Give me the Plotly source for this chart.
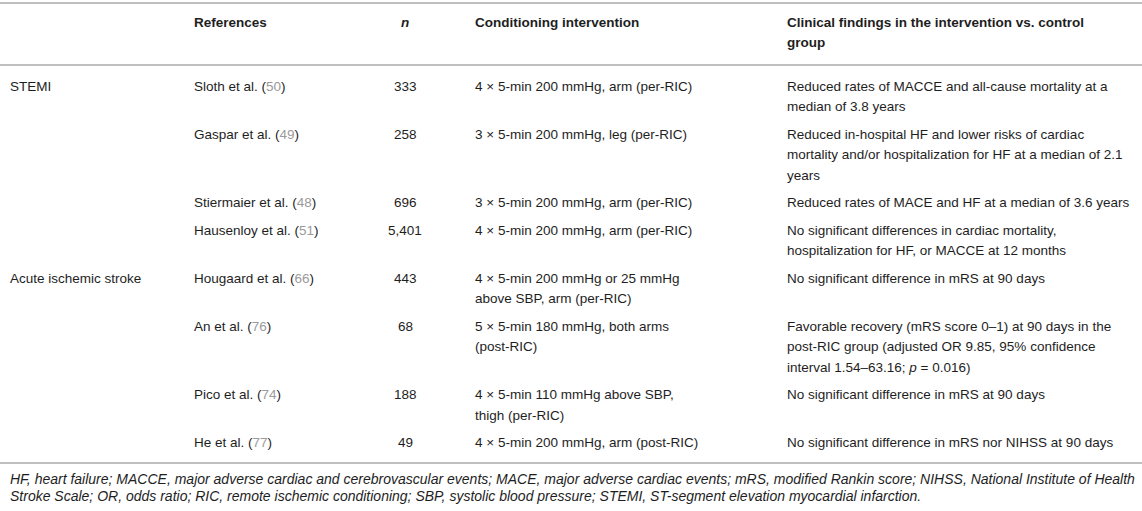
import plotly.graph_objects as go

# Table content
categories = ["STEMI", "", "", "", "Acute ischemic stroke", "", "", ""]
authors = ["Sloth et al.", "Gaspar et al.", "Stiermaier et al.", "Hausenloy et al.",
           "Hougaard et al.", "An et al.", "Pico et al.", "He et al."]
ref_nums = [50, 49, 48, 51, 66, 76, 74, 77]
n_values = [333, 258, 696, 5401, 443, 68, 188, 49]
interventions = [
    "4 × 5-min 200 mmHg, arm (per-RIC)",
    "3 × 5-min 200 mmHg, leg (per-RIC)",
    "3 × 5-min 200 mmHg, arm (per-RIC)",
    "4 × 5-min 200 mmHg, arm (per-RIC)",
    "4 × 5-min 200 mmHg or 25 mmHg<br>above SBP, arm (per-RIC)",
    "5 × 5-min 180 mmHg, both arms<br>(post-RIC)",
    "4 × 5-min 110 mmHg above SBP,<br>thigh (per-RIC)",
    "4 × 5-min 200 mmHg, arm (post-RIC)",
]
findings = [
    "Reduced rates of MACCE and all-cause mortality at a<br>median of 3.8 years",
    "Reduced in-hospital HF and lower risks of cardiac<br>mortality and/or hospitalization for HF at a median of 2.1<br>years",
    "Reduced rates of MACE and HF at a median of 3.6 years",
    "No significant differences in cardiac mortality,<br>hospitalization for HF, or MACCE at 12 months",
    "No significant difference in mRS at 90 days",
    "Favorable recovery (mRS score 0–1) at 90 days in the<br>post-RIC group (adjusted OR 9.85, 95% confidence<br>interval 1.54–63.16; <i>p</i> = 0.016)",
    "No significant difference in mRS at 90 days",
    "No significant difference in mRS nor NIHSS at 90 days",
]
headers = ["", "References", "<i>n</i>", "Conditioning intervention",
           "Clinical findings in the intervention vs. control<br>group"]
footnote = ("HF, heart failure; MACCE, major adverse cardiac and cerebrovascular events; "
            "MACE, major adverse cardiac events; mRS, modified Rankin score; NIHSS, National Institute of Health<br>"
            "Stroke Scale; OR, odds ratio; RIC, remote ischemic conditioning; SBP, systolic blood pressure; "
            "STEMI, ST-segment elevation myocardial infarction.")

W, H = 1142, 511
FONT = "Liberation Sans, Arial, sans-serif"
TXT = "#1e1e1e"
REF = "#9a9a9a"
RULE = "#aaaaaa"
SIZE = 13.5
LINE = 20.5
PAD = 7
col_x = [8, 192, 405, 473, 785]

fig = go.Figure()
fig.add_trace(go.Scatter(x=[0, W], y=[0, H], mode="markers",
                         marker=dict(opacity=0), hoverinfo="skip", showlegend=False))


def add_lines(text, x, y, anchor="left", size=SIZE, bold=False, step=LINE):
    for k, line in enumerate(text.split("<br>")):
        if bold:
            line = "<b>" + line + "</b>"
        fig.add_annotation(x=x, y=y + k * step, text=line, xref="x", yref="y",
                           xanchor=anchor, yanchor="middle", showarrow=False,
                           font=dict(family=FONT, size=size, color=TXT))


# header
header_y = 22
for i, h in enumerate(headers):
    add_lines(h, col_x[i], header_y, anchor="center" if i == 2 else "left", bold=True)

# body rows
y = 65 + PAD + 4 + LINE / 2
for i in range(len(authors)):
    ref = f"{authors[i]} (<span style='color:{REF}'>{ref_nums[i]}</span>)"
    add_lines(categories[i], col_x[0], y)
    add_lines(ref, col_x[1], y)
    add_lines(f"{n_values[i]:,}", col_x[2], y, anchor="center")
    add_lines(interventions[i], col_x[3], y)
    add_lines(findings[i], col_x[4], y)
    nlines = max(interventions[i].count("<br>"), findings[i].count("<br>")) + 1
    y += nlines * LINE + PAD

# footnote
add_lines("<br>".join("<i>" + s + "</i>" for s in footnote.split("<br>")),
          8, 478.5, size=14, step=17)

# horizontal rules
for ry in [3, 65, 463]:
    fig.add_shape(type="line", x0=0, x1=W, y0=ry, y1=ry, xref="x", yref="y",
                  line=dict(color=RULE, width=1.5))

fig.update_layout(
    width=W, height=H,
    margin=dict(l=0, r=0, t=0, b=0),
    paper_bgcolor="white", plot_bgcolor="white",
    xaxis=dict(range=[0, W], visible=False, fixedrange=True),
    yaxis=dict(range=[H, 0], visible=False, fixedrange=True),
    showlegend=False,
)

fig.write_html("out.html", config={"displayModeBar": False},
               post_script="document.body.style.margin='0';")
